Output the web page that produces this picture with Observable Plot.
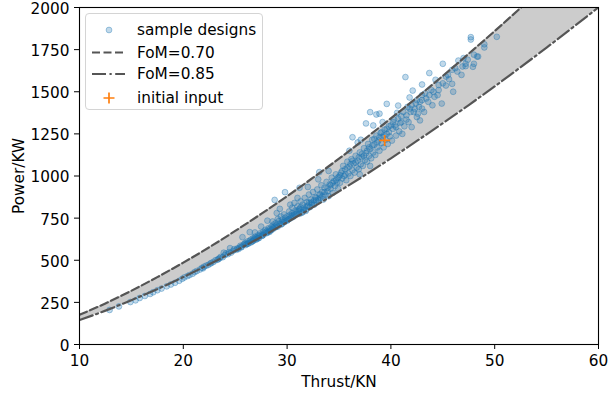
<!DOCTYPE html>
<html>
<head>
<meta charset="utf-8">
<script src="https://cdn.jsdelivr.net/npm/d3@7"></script>
<script src="https://cdn.jsdelivr.net/npm/@observablehq/plot@0.6"></script>
<style>
  body { margin: 0; background: #fff; }
  #wrap { position: relative; width: 609px; height: 398px; font-family: "DejaVu Sans", sans-serif; }
  #legend { position: absolute; left: 85px; top: 13px; width: 178px; height: 97px;
            border: 1px solid #d4d4d4; border-radius: 4px; background: rgba(255,255,255,0.8); box-sizing: border-box; }
  #legend svg { position: absolute; left: 0; top: 0; }
</style>
</head>
<body>
<div id="wrap"></div>
<script>
// ---- data ----
const xTicks = [10, 20, 30, 40, 50, 60];
const yTicks = [0, 250, 500, 750, 1000, 1250, 1500, 1750, 2000];

// curve samples (Thrust kN) and power (kW) along the two FoM boundaries
const curveThrust = [10, 12.5, 15, 17.5, 20, 22.5, 25, 27.5, 30, 32.5, 35, 37.5, 40, 42.5, 45, 47.5, 50, 52.5, 55, 57.5, 60];
const powerFoM070 = [176, 244, 319, 400, 486, 577, 674, 775, 880, 990, 1103, 1221, 1342, 1466, 1594, 1726, 1860, 1998, 2139, 2283, 2430];
const powerFoM085 = [145, 201, 263, 329, 400, 476, 555, 638, 725, 815, 909, 1005, 1105, 1208, 1313, 1421, 1532, 1646, 1762, 1881, 2001];

// sample designs [thrust, power]
const samplePoints = [
  [12.9,205],[13.8,226],[14.9,252],[15.4,262],[16.3,288],[16.8,300],[17.1,310],[17.9,332],[18.4,345],[19.2,366],[19.6,378],[20.1,398],[20.6,412],[20.9,420],[21.3,436],[21.6,445],[21.9,452],
  [15.8,276],[17.5,322],[18.8,356],[19.9,390],[20.4,406],[21.1,430],[21.8,455],[22.0,462],[22.6,480],[23.4,508],
  [22.2,468],[22.4,472],[22.7,484],[22.9,490],[23.1,500],[23.3,503],[23.5,512],[23.6,520],[23.8,518],[24.0,530],[24.1,540],[24.3,536],[24.4,548],[24.6,545],[24.8,556],[24.9,566],[23.9,545],[24.5,572],
  [25.1,562],[25.2,570],[25.4,575],[25.5,586],[25.6,580],[25.7,637],[25.8,592],[25.9,598],[26.0,603],[26.1,596],[26.2,612],[26.4,667],[26.4,615],[26.5,622],[26.6,610],[26.7,630],[26.8,626],[26.9,640],[27.0,634],[27.1,628],[27.2,648],[27.3,642],[27.4,660],[27.5,652],[27.6,646],[27.7,668],[27.8,662],[27.9,680],[28.0,672],[28.1,664],[28.2,690],[28.3,684],[28.4,676],[28.5,700],[28.6,694],[28.6,730],[28.7,712],[28.8,858],[28.8,700],[28.9,720],[29.0,708],[29.1,745],[29.2,732],[29.3,805],[29.3,718],[29.4,760],[29.5,740],[29.6,728],[29.7,772],[29.8,904],[29.8,752],[29.9,738],[27.5,700],[26.9,665],[28.1,735],[29.0,780],
  [25.3,566],[25.6,577],[26.3,600],[26.7,614],[27.2,630],[27.6,645],[28.3,668],[28.9,696],[29.4,712],[29.8,730],[30.6,758],[31.2,776],[31.8,793],[32.4,830],[33.0,860],
  [30.0,760],[30.1,742],[30.2,790],[30.3,770],[30.4,752],[30.5,812],[30.5,780],[30.6,765],[30.7,840],[30.8,795],[30.9,775],[31.0,820],[31.1,790],[31.2,930],[31.2,805],[31.3,850],[31.4,782],[31.5,830],[31.6,812],[31.7,870],[31.8,800],[31.9,845],[32.0,825],[32.1,890],[32.2,815],[32.3,860],[32.4,840],[32.5,905],[32.6,830],[32.7,875],[32.8,855],[32.9,920],[33.0,850],[33.1,1023],[33.1,890],[33.2,870],[33.3,945],[33.4,905],[33.5,860],[33.6,930],[33.7,890],[33.8,965],[33.9,910],[34.0,880],[34.1,950],[34.2,925],[34.3,990],[34.4,900],[34.5,970],[34.6,940],[34.7,1010],[34.8,960],[34.9,925],[35.0,995],[31.0,870],[32.0,935],[33.0,980],[34.0,1030],[30.3,830],[31.5,785],
  [35.1,960],[35.2,1020],[35.3,985],[35.4,1060],[35.5,1000],[35.6,1040],[35.7,975],[35.8,1085],[35.9,1015],[36.0,1055],[36.1,1000],[36.2,1100],[36.3,1035],[36.3,1230],[36.4,1075],[36.5,1020],[36.6,1120],[36.7,1050],[36.8,1199],[36.8,1090],[36.9,1040],[37.0,1140],[37.1,1070],[37.1,1215],[37.2,1110],[37.3,1060],[37.4,1165],[37.5,1095],[37.6,1312],[37.6,1135],[37.7,1085],[37.8,1190],[37.9,1120],[38.0,1379],[38.0,1160],[38.1,1105],[38.2,1215],[38.3,1300],[38.3,1140],[38.4,1185],[38.5,1125],[38.6,1365],[38.6,1240],[38.7,1170],[38.8,1210],[38.9,1370],[38.9,1150],[39.0,1255],[39.1,1195],[39.2,1320],[39.2,1230],[39.3,1170],[39.4,1275],[39.5,1215],[39.6,1428],[39.6,1250],[39.7,1190],[39.8,1295],[39.9,1235],[36.0,1150],[37.0,1010],[38.0,1060],
  [40.2,1280],[40.3,1335],[40.5,1240],[40.6,1375],[40.7,1418],[40.8,1265],[40.9,1315],[41.0,1355],[41.3,1295],[41.4,1587],[41.5,1335],[41.6,1410],[41.8,1466],[41.9,1380],[42.1,1507],[42.3,1400],[42.4,1430],[42.6,1370],[42.8,1440],[42.8,1330],[43.0,1543],[43.0,1400],[43.0,1480],[43.4,1460],[43.7,1611],[43.7,1480],[44.1,1500],[44.3,1571],[44.5,1480],[44.9,1430],[45.0,1666],[40.1,1210],[40.4,1300],[41.1,1250],[41.7,1320],[42.0,1290],[42.5,1350],[43.2,1380],[44.0,1420],[44.6,1540],
  [45.3,1537],[45.3,1590],[45.9,1630],[45.9,1547],[46.4,1620],[46.5,1685],[46.9,1650],[47.2,1652],[47.2,1666],[47.7,1824],[47.7,1810],[47.9,1648],[48.0,1666],[48.3,1709],[48.4,1709],[49.0,1782],[49.0,1763],[50.2,1826],[45.6,1575],[46.0,1500],
  [26.0,590],[26.2,598],[26.5,606],[26.8,618],[27.0,622],[27.3,632],[27.7,650],[28.0,660],[28.2,670],[28.5,680],[28.7,688],[29.1,700],[29.5,715],[29.7,725],[30.0,735],[30.2,745],[30.4,762],[30.7,772],[30.9,785],[31.1,800],[31.3,815],[31.6,800],[31.9,820],[32.1,840],[32.3,845],[32.6,855],[32.8,870],[33.2,890],[33.4,880],[33.6,905],[33.9,930],[34.2,945],[34.4,960],[34.7,975],[34.9,990],[35.1,1005],[35.3,1030],[35.6,1010],[35.8,1050],[36.1,1070],[36.3,1090],[36.6,1080],[36.9,1110],[37.2,1130],[37.4,1120],[37.7,1150],[37.9,1170],[38.2,1180],[38.4,1220],[38.7,1200],[38.9,1230],[39.1,1260],[39.3,1240],[39.6,1280],[39.8,1260],[40.0,1300],[40.2,1320],[40.5,1290],[40.7,1340],[41.0,1320],[41.2,1380],[41.5,1360],[41.8,1400],[42.0,1420],[42.2,1380],[42.5,1450],[42.7,1410],[43.0,1450],[43.3,1490],[43.6,1440],[43.9,1510],[44.2,1470],[44.6,1510],[45.0,1550],[45.5,1600],[46.2,1640],[46.8,1600],[47.4,1690],[47.0,1700],[48.0,1720]
];

const initialThrust = [39.4];
const initialPower = [1211];

const legendLabels = ["sample designs", "FoM=0.70", "FoM=0.85", "initial input"];

// ---- build tables ----
const curveTable = curveThrust.map((t, i) => ({t, p70: powerFoM070[i], p85: powerFoM085[i]}));
const sampleTable = samplePoints.map(([t, p]) => ({t, p}));
const initialTable = initialThrust.map((t, i) => ({t, p: initialPower[i]}));

const plusSymbol = {
  draw(context, size) {
    const r = Math.sqrt(size / Math.PI);
    context.moveTo(-r, 0); context.lineTo(r, 0);
    context.moveTo(0, -r); context.lineTo(0, r);
  }
};

const blue = "#1f77b4", orange = "#ff7f0e", lineGray = "#555555";
const dash = "8,3.5", dashDot = "14,3.5,2.2,3.5";
const fontPx = "15.3px";

const chart = Plot.plot({
  width: 609, height: 398,
  marginLeft: 79, marginRight: 11, marginTop: 7, marginBottom: 54,
  x: {domain: [10, 60]},
  y: {domain: [0, 2000]},
  style: {fontFamily: "DejaVu Sans, sans-serif", fontSize: fontPx, color: "#000", background: "#fff", overflow: "visible"},
  marks: [
    Plot.areaY(curveTable, {x: "t", y1: "p85", y2: "p70", fill: "#cccccc", curve: "monotone-x", clip: true}),
    Plot.dot(sampleTable, {x: "t", y: "p", r: 2.9, fill: blue, fillOpacity: 0.28, stroke: blue, strokeOpacity: 0.38, strokeWidth: 1}),
    Plot.line(curveTable, {x: "t", y: "p70", stroke: lineGray, strokeWidth: 2.2, strokeDasharray: dash, curve: "monotone-x", clip: true}),
    Plot.line(curveTable, {x: "t", y: "p85", stroke: lineGray, strokeWidth: 2.2, strokeDasharray: dashDot, curve: "monotone-x", clip: true}),
    Plot.dot(initialTable, {x: "t", y: "p", symbol: plusSymbol, r: 5.5, stroke: orange, strokeWidth: 1.7, fill: "none"}),
    Plot.frame({stroke: "#000", strokeWidth: 1.1}),
    Plot.axisX({ticks: xTicks, tickSize: 5, tickPadding: 6, tickFormat: d => String(d),
      label: "Thrust/KN", labelAnchor: "center", labelArrow: "none", labelOffset: 42}),
    Plot.axisY({ticks: yTicks, tickSize: 5, tickFormat: () => "", label: null}),
    Plot.axisY({ticks: yTicks, tickSize: 0, tickPadding: 10, dy: 1.5, tickFormat: d => String(d),
      label: "Power/KW", labelAnchor: "center", labelArrow: "none", labelOffset: 66})
  ]
});

const wrap = document.getElementById("wrap");
wrap.appendChild(chart);

// ---- legend overlay ----
const legend = document.createElement("div");
legend.id = "legend";
wrap.appendChild(legend);
const ls = d3.select(legend).append("svg").attr("width", 178).attr("height", 97)
  .style("font-family", "DejaVu Sans, sans-serif").style("font-size", fontPx);
const rowY = [16, 38.5, 60, 84];
const hx0 = 6, hx1 = 39, hxm = 23, tx = 51;
ls.append("circle").attr("cx", hxm).attr("cy", rowY[0]).attr("r", 2.9)
  .attr("fill", blue).attr("fill-opacity", 0.28).attr("stroke", blue).attr("stroke-opacity", 0.38);
ls.append("line").attr("x1", hx0).attr("x2", hx1).attr("y1", rowY[1]).attr("y2", rowY[1])
  .attr("stroke", lineGray).attr("stroke-width", 2.2).attr("stroke-dasharray", dash);
ls.append("line").attr("x1", hx0).attr("x2", hx1).attr("y1", rowY[2]).attr("y2", rowY[2])
  .attr("stroke", lineGray).attr("stroke-width", 2.2).attr("stroke-dasharray", dashDot);
ls.append("path").attr("d", `M${hxm-5.5},${rowY[3]}H${hxm+5.5}M${hxm},${rowY[3]-5.5}V${rowY[3]+5.5}`)
  .attr("stroke", orange).attr("stroke-width", 1.7).attr("fill", "none");
legendLabels.forEach((s, i) => {
  ls.append("text").attr("x", tx).attr("y", rowY[i]).attr("dy", "0.35em").attr("fill", "#000").text(s);
});
</script>
</body>
</html>
